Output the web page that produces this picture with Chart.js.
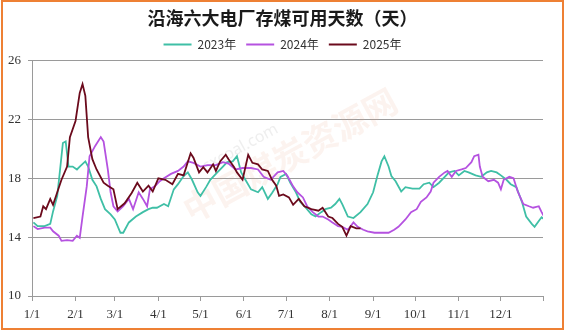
<!DOCTYPE html>
<html>
<head>
<meta charset="utf-8">
<script src="https://cdn.jsdelivr.net/npm/chart.js@4.4.1/dist/chart.umd.min.js"></script>
<style>
    body { margin: 0; background: #fff; }
    #wrap { position: relative; width: 565px; height: 332px; }
    #frame {
        position: absolute; left: 1px; top: 0; width: 563px; height: 330px;
        box-sizing: border-box; border: 2px solid #ee8034; pointer-events: none;
    }
</style>
</head>
<body>
<div id="wrap">
    <canvas id="coalChart" width="565" height="332"></canvas>
    <div id="frame"></div>
</div>
<script>
// 沿海六大电厂存煤可用天数 — x = 自1月1日起的天数
const monthDays = [0, 31, 59, 90, 120, 151, 181, 212, 243, 273, 304, 334, 364];
const monthLabels = ['1/1', '2/1', '3/1', '4/1', '5/1', '6/1', '7/1', '8/1', '9/1', '10/1', '11/1', '12/1', ''];
const yearLabels = ['2023年', '2024年', '2025年'];

const days2023 = [1, 4, 9, 13, 15, 18, 20, 22, 24, 26, 29, 32, 34, 38, 40, 43, 46, 49, 52, 56, 59, 63, 65, 69, 74, 79, 83, 86, 89, 94, 97, 101, 104, 108, 111, 114, 118, 120, 124, 127, 132, 136, 139, 143, 146, 149, 152, 156, 161, 164, 168, 171, 175, 177, 181, 184, 188, 191, 195, 199, 202, 206, 209, 213, 216, 219, 221, 225, 229, 234, 239, 243, 246, 249, 251, 254, 256, 259, 263, 266, 271, 276, 279, 283, 286, 290, 294, 297, 301, 304, 308, 311, 316, 320, 324, 327, 331, 334, 338, 341, 345, 349, 352, 356, 358, 361, 363, 365];
const values2023 = [15.0, 14.75, 14.75, 14.9, 15.75, 16.8, 18.6, 20.4, 20.5, 18.8, 18.8, 18.6, 18.8, 19.15, 18.8, 17.9, 17.45, 16.6, 15.9, 15.55, 15.2, 14.3, 14.3, 15.0, 15.4, 15.7, 15.9, 16.0, 16.0, 16.25, 16.1, 17.25, 17.6, 18.15, 18.4, 17.9, 17.05, 16.8, 17.4, 17.9, 18.4, 18.8, 19.1, 19.15, 19.5, 18.4, 17.9, 17.25, 17.05, 17.4, 16.6, 17.0, 17.6, 18.1, 18.3, 17.7, 17.05, 16.4, 16.0, 15.55, 15.4, 15.7, 15.9, 16.0, 16.25, 16.6, 16.25, 15.4, 15.3, 15.7, 16.25, 17.05, 18.15, 19.15, 19.5, 18.8, 18.15, 17.8, 17.1, 17.4, 17.3, 17.3, 17.6, 17.7, 17.4, 17.7, 18.1, 18.4, 18.5, 18.2, 18.5, 18.4, 18.2, 18.1, 18.4, 18.5, 18.4, 18.2, 17.9, 17.6, 17.4, 16.4, 15.4, 14.9, 14.7, 15.1, 15.35, 15.2];

const days2024 = [1, 4, 9, 13, 15, 19, 21, 25, 29, 32, 34, 36, 39, 41, 45, 49, 51, 54, 56, 58, 61, 65, 69, 72, 76, 79, 82, 84, 88, 91, 94, 99, 104, 108, 111, 115, 120, 125, 131, 136, 140, 145, 150, 156, 161, 165, 170, 175, 179, 182, 186, 189, 193, 196, 200, 204, 207, 211, 214, 218, 221, 225, 229, 232, 236, 239, 244, 249, 254, 258, 261, 266, 270, 274, 277, 281, 284, 286, 290, 294, 296, 299, 302, 306, 309, 313, 315, 318, 319, 321, 325, 329, 332, 334, 336, 340, 343, 346, 350, 354, 357, 361, 363, 365];
const values2024 = [14.75, 14.55, 14.65, 14.65, 14.4, 14.1, 13.75, 13.8, 13.75, 14.1, 13.95, 15.4, 17.45, 19.5, 20.2, 20.8, 20.5, 18.6, 17.05, 16.1, 15.75, 16.1, 16.6, 15.9, 17.05, 16.6, 16.1, 17.25, 17.5, 17.8, 18.0, 18.3, 18.5, 18.8, 19.15, 19.05, 18.8, 18.9, 18.9, 19.1, 19.0, 18.6, 18.7, 18.7, 18.6, 18.1, 17.9, 18.4, 18.5, 18.15, 17.45, 17.05, 16.7, 16.1, 15.7, 15.4, 15.4, 15.2, 15.0, 14.75, 14.7, 14.5, 15.0, 14.7, 14.5, 14.4, 14.3, 14.3, 14.3, 14.5, 14.7, 15.2, 15.7, 15.9, 16.4, 16.7, 17.1, 17.7, 18.1, 18.4, 18.5, 18.1, 18.5, 18.6, 18.7, 19.1, 19.5, 19.6, 18.8, 18.1, 17.8, 17.9, 17.7, 17.25, 17.9, 18.1, 18.0, 17.1, 16.25, 16.1, 16.0, 16.1, 15.7, 15.35];

const days2025 = [1, 6, 8, 10, 13, 15, 18, 21, 25, 27, 31, 34, 36, 38, 40, 43, 46, 51, 54, 58, 61, 66, 71, 75, 79, 83, 86, 90, 95, 100, 104, 108, 113, 115, 119, 122, 125, 129, 131, 134, 138, 140, 144, 146, 150, 154, 157, 161, 164, 168, 171, 174, 176, 179, 183, 186, 190, 194, 199, 204, 207, 211, 214, 218, 221, 224, 227, 231, 234];
const values2025 = [15.3, 15.4, 16.1, 15.9, 16.6, 16.2, 17.05, 17.9, 18.8, 20.8, 21.9, 23.8, 24.4, 23.6, 20.8, 19.3, 18.6, 17.7, 17.5, 17.25, 15.9, 16.3, 17.0, 17.7, 17.1, 17.5, 17.1, 18.0, 17.9, 17.6, 18.3, 18.2, 19.7, 19.4, 18.4, 18.75, 18.4, 18.95, 18.5, 19.15, 19.6, 19.3, 18.75, 18.4, 17.9, 19.6, 19.05, 18.95, 18.6, 18.5, 17.9, 17.5, 16.8, 16.9, 16.7, 16.2, 16.6, 16.1, 15.9, 15.8, 16.0, 15.4, 15.3, 14.9, 14.7, 14.1, 14.75, 14.6, 14.6];

const yearColors = ['#3fbfa6', '#b552e0', '#6b0a1c'];

const toPoints = (days, values) => days.map((d, i) => ({ x: d, y: values[i] }));

// 水印
const watermark = {
    id: 'watermark',
    beforeDatasetsDraw(chart) {
        const { ctx } = chart;
        ctx.save();
        ctx.translate(290, 155);
        ctx.rotate(-0.5);
        ctx.font = 'bold 34px "Noto Sans CJK SC"';
        ctx.textAlign = 'center';
        ctx.textBaseline = 'middle';
        ctx.fillStyle = 'rgba(235, 160, 130, 0.13)';
        ctx.fillText('中国煤炭资源网', 0, 0);
        ctx.font = '16px "Noto Sans"';
        ctx.fillStyle = 'rgba(200, 200, 200, 0.3)';
        ctx.fillText('sxcoal.com', -40, -30);
        ctx.restore();
    }
};

const makeDataset = (i, days, values) => ({
    label: yearLabels[i],
    data: toPoints(days, values),
    borderColor: yearColors[i],
    backgroundColor: yearColors[i],
    borderWidth: 1.8,
    pointRadius: 0,
    tension: 0,
    order: 3 - i
});

new Chart(document.getElementById('coalChart'), {
    type: 'line',
    data: {
        datasets: [
            makeDataset(0, days2023, values2023),
            makeDataset(1, days2024, values2024),
            makeDataset(2, days2025, values2025)
        ]
    },
    options: {
        responsive: false,
        devicePixelRatio: 1,
        animation: false,
        layout: { padding: 0 },
        plugins: {
            title: {
                display: true,
                text: '沿海六大电厂存煤可用天数（天）',
                color: '#1a1a1a',
                font: { family: '"Noto Sans CJK SC"', size: 18, weight: 'bold' },
                padding: { top: 7, bottom: 0 }
            },
            legend: {
                display: true,
                labels: {
                    boxWidth: 28,
                    boxHeight: 2,
                    padding: 10,
                    color: '#333',
                    font: { family: '"Noto Sans CJK SC"', size: 12 },
                    sort: (a, b) => a.datasetIndex - b.datasetIndex,
                    generateLabels: (chart) => Chart.defaults.plugins.legend.labels.generateLabels(chart)
                        .map(l => ({ ...l, lineWidth: 0, fillStyle: l.strokeStyle }))
                }
            },
            tooltip: { enabled: false }
        },
        scales: {
            x: {
                type: 'linear',
                min: 0,
                max: 364,
                afterBuildTicks: (scale) => { scale.ticks = monthDays.map(v => ({ value: v })); },
                afterFit: (scale) => { scale.height = 36; },
                ticks: {
                    autoSkip: false,
                    maxRotation: 0,
                    padding: 6,
                    color: '#333',
                    font: { family: '"Liberation Serif"', size: 13 },
                    callback: (value, index) => monthLabels[index]
                },
                grid: { drawOnChartArea: false, drawTicks: true, tickLength: 5, color: '#9a9a9a' },
                border: { color: '#9a9a9a' }
            },
            y: {
                min: 10,
                max: 26,
                afterFit: (scale) => { scale.width = 32; },
                ticks: {
                    stepSize: 4,
                    padding: 7,
                    color: '#333',
                    font: { family: '"Liberation Serif"', size: 13 }
                },
                grid: { color: '#9a9a9a', tickLength: 4 },
                border: { color: '#9a9a9a' }
            },
            // 右侧留白，使标题与图例居中于整幅画面
            spacer: {
                position: 'right',
                min: 0,
                max: 1,
                afterFit: (scale) => { scale.width = 22; },
                ticks: { display: false },
                grid: { display: false },
                border: { display: false }
            }
        }
    },
    plugins: [watermark]
});
</script>
</body>
</html>
